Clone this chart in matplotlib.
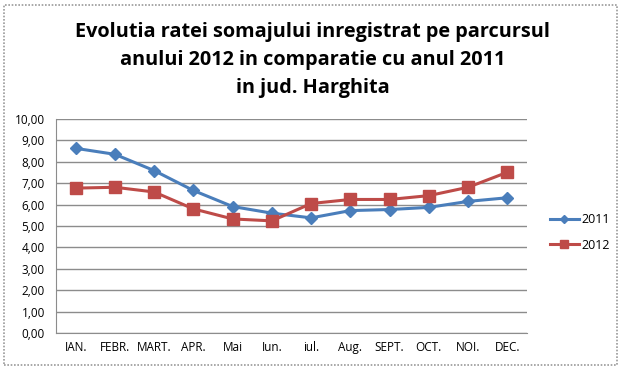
import matplotlib
matplotlib.use("Agg")
import matplotlib.pyplot as plt
from matplotlib.patches import Rectangle

months = ["IAN.", "FEBR.", "MART.", "APR.", "Mai", "Iun.", "iul.", "Aug.", "SEPT.", "OCT.", "NOI.", "DEC."]
rate_2011 = [8.63, 8.35, 7.59, 6.66, 5.91, 5.60, 5.38, 5.72, 5.77, 5.87, 6.15, 6.32]
rate_2012 = [6.77, 6.81, 6.59, 5.80, 5.33, 5.24, 6.05, 6.24, 6.24, 6.42, 6.81, 7.51]
yticks = [0, 1, 2, 3, 4, 5, 6, 7, 8, 9, 10]
title = "Evolutia ratei somajului inregistrat pe parcursul\nanului 2012 in comparatie cu anul 2011\nin jud. Harghita"

W, H = 623, 373
fig = plt.figure(figsize=(W / 100, H / 100), dpi=100)
fig.patch.set_facecolor("white")
fig.patches.append(Rectangle((4 / W, 1 - 365 / H), 613 / W, 360 / H, transform=fig.transFigure,
                             fill=False, edgecolor="#9a9a9a", linewidth=1.2, linestyle=(0, (1, 1))))

ax = fig.add_axes([56 / W, 1 - 333 / H, 471 / W, 214 / H])
x = list(range(len(months)))
ax.plot(x, rate_2011, color="#4A7EBB", linewidth=2.2, marker="D", markersize=6,
        markeredgecolor="#4A7EBB", label="2011", zorder=3)
ax.plot(x, rate_2012, color="#BE4B48", linewidth=2.2, marker="s", markersize=8,
        markeredgecolor="#BE4B48", label="2012", zorder=3)

ax.set_xlim(-0.5, 11.5)
ax.set_ylim(0, 10)
ax.set_yticks(yticks)
ax.set_yticklabels([f"{v:.2f}".replace(".", ",") for v in yticks], fontsize=8.5, family="Open Sans")
ax.set_xticks(x)
ax.set_xticklabels(months, fontsize=8.5, family="Open Sans")
ax.grid(axis="y", color="#8c8c8c", linewidth=1)
ax.set_axisbelow(True)
for s in ["top", "right"]:
    ax.spines[s].set_visible(False)
for s in ["left", "bottom"]:
    ax.spines[s].set_color("#8c8c8c")
ax.tick_params(axis="both", length=0, pad=6, colors="black")
ax.tick_params(axis="y", pad=8)

leg = ax.legend(loc="center left", bbox_to_anchor=(1.025, 0.47), frameon=False,
                prop={"family": "Open Sans", "size": 9}, handlelength=2.3, labelspacing=1.0,
                handletextpad=0.25, markerscale=0.75)

fig.text(0.502, 1 - 60 / H, title, ha="center", va="center", fontsize=14.3,
         fontweight="bold", family="Open Sans", linespacing=1.52)

fig.savefig("out.png", dpi=100)
